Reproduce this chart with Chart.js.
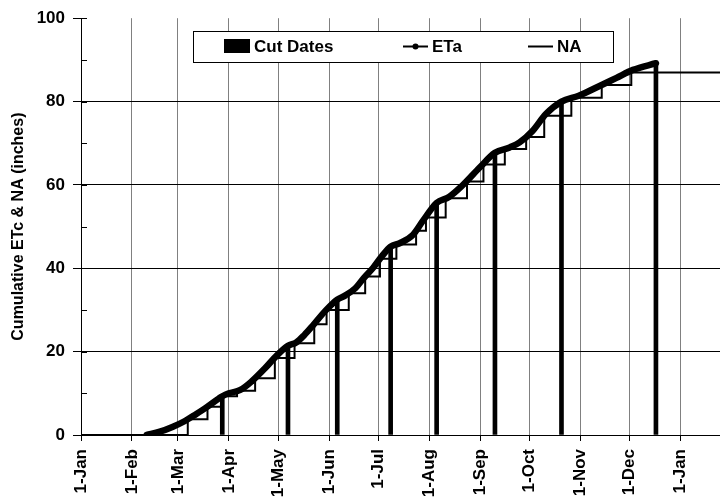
<!DOCTYPE html>
<html>
<head>
<meta charset="utf-8">
<script src="https://cdn.jsdelivr.net/npm/chart.js@4.4.1/dist/chart.umd.min.js"></script>
<style>
  html, body { margin: 0; padding: 0; background: #fff; }
  #chart { display: block; }
</style>
</head>
<body>
<canvas id="chart" width="720" height="500"></canvas>
<script>
// Axe des x : jours depuis le 1er janvier
const monthDays = [0, 31, 59, 90, 120, 151, 181, 212, 243, 273, 304, 334, 365];
const monthLabels = ['1-Jan', '1-Feb', '1-Mar', '1-Apr', '1-May', '1-Jun', '1-Jul',
                     '1-Aug', '1-Sep', '1-Oct', '1-Nov', '1-Dec', '1-Jan'];

// ETa cumulée (inches)
const etaDays   = [40, 48, 56, 63, 70, 77, 84, 86, 90, 97, 104, 112, 119, 126, 131, 136, 141, 149,
                   156, 161, 167, 172, 178, 183, 188.5, 194, 202, 208, 216.5, 224, 232, 243, 252,
                   261, 267, 275, 283, 292.5, 303, 316, 326, 336, 350];
const etaValues = [0, 0.8, 2.0, 3.3, 5.0, 6.8, 8.8, 9.3, 10.0, 10.8, 12.9, 16.0, 19.0, 21.4, 22.2, 24.0, 26.2, 29.9,
                   32.5, 33.5, 35.2, 37.6, 40.2, 42.8, 45.2, 46.0, 48.0, 51.3, 55.7, 57.1, 59.8, 64.3, 67.7,
                   69.0, 70.2, 73.0, 77.0, 80.0, 81.4, 83.8, 85.7, 87.6, 89.2];

// Dates de coupe
const cutDays   = [86, 126, 156, 188.5, 216.5, 252, 292.5, 350];
const cutValues = [9.3, 21.4, 32.5, 45.2, 55.7, 67.7, 80.0, 89.2];

// NA (escalier)
const naDays   = [0, 65, 77, 86, 95, 106, 118, 130, 142, 149.5, 163, 173, 182, 192, 204, 210,
                  222, 235, 245, 258, 271, 282, 298.5, 317, 335, 389];
const naValues = [0, 3.8, 6.8, 9.3, 10.6, 13.6, 18.5, 22.0, 26.6, 30.0, 34.0, 38.0, 42.3, 45.7, 49.0, 52.2,
                  56.8, 60.8, 64.9, 68.6, 71.5, 76.6, 80.9, 84.0, 87.0, 87.0];

const FONT = '"Liberation Sans", Arial, sans-serif';

const toPoints = (xs, ys) => xs.map((x, i) => ({ x: x, y: ys[i] }));

// Petits tirets intérieurs sur l'axe des y
const innerTicks = {
    id: 'innerTicks',
    afterDraw(chart) {
        const ctx = chart.ctx;
        const y = chart.scales.y;
        ctx.save();
        ctx.strokeStyle = '#000';
        ctx.lineWidth = 1;
        for (let v = 0; v <= 100; v += 10) {
            const py = Math.round(y.getPixelForValue(v)) + 0.5;
            ctx.beginPath();
            ctx.moveTo(y.right, py);
            ctx.lineTo(y.right + 6, py);
            ctx.stroke();
        }
        ctx.restore();
    }
};

// Légende encadrée dans la zone du graphique
const legendBox = {
    id: 'legendBox',
    afterDraw(chart) {
        const ctx = chart.ctx;
        ctx.save();
        ctx.fillStyle = '#fff';
        ctx.fillRect(193.5, 31.5, 420, 31);
        ctx.strokeStyle = '#000';
        ctx.lineWidth = 1;
        ctx.strokeRect(193.5, 31.5, 420, 31);

        ctx.fillStyle = '#000';
        ctx.font = 'bold 17px ' + FONT;
        ctx.textBaseline = 'middle';

        // Cut Dates
        ctx.fillRect(224, 39, 26, 14);
        ctx.fillText('Cut Dates', 254, 47);

        // ETa
        ctx.lineWidth = 2;
        ctx.beginPath();
        ctx.moveTo(403, 46.5);
        ctx.lineTo(428, 46.5);
        ctx.stroke();
        ctx.beginPath();
        ctx.arc(415.5, 46.5, 3, 0, Math.PI * 2);
        ctx.fill();
        ctx.fillText('ETa', 432, 47);

        // NA
        ctx.beginPath();
        ctx.moveTo(528, 46.5);
        ctx.lineTo(553, 46.5);
        ctx.stroke();
        ctx.fillText('NA', 557, 47);
        ctx.restore();
    }
};

new Chart(document.getElementById('chart'), {
    type: 'line',
    data: {
        datasets: [{
            label: 'ETa',
            data: toPoints(etaDays, etaValues),
            borderColor: '#000',
            borderWidth: 6.5,
            pointRadius: 0,
            cubicInterpolationMode: 'monotone',
            borderJoinStyle: 'round',
            borderCapStyle: 'round',
            fill: false
        }, {
            type: 'bar',
            label: 'Cut Dates',
            data: toPoints(cutDays, cutValues),
            backgroundColor: '#000',
            borderWidth: 0,
            barThickness: 4,
            grouped: false
        }, {
            label: 'NA',
            data: toPoints(naDays, naValues),
            borderColor: '#000',
            borderWidth: 2,
            pointRadius: 0,
            stepped: true,
            fill: false
        }]
    },
    options: {
        responsive: false,
        animation: false,
        devicePixelRatio: 1,
        layout: { padding: { top: 15, right: 0, left: 0, bottom: 0 } },
        plugins: {
            legend: { display: false },
            tooltip: { enabled: false }
        },
        scales: {
            x: {
                type: 'linear',
                min: 0,
                max: 389,
                offset: false,
                afterBuildTicks: (scale) => {
                    scale.ticks = monthDays.map(v => ({ value: v }));
                },
                afterFit: (scale) => { scale.height = 65; },
                grid: {
                    offset: false,
                    color: (c) => c.tick && c.tick.value === 0 ? 'rgba(0,0,0,0)' : '#808080',
                    tickColor: '#000',
                    tickLength: 6,
                    lineWidth: 1
                },
                border: { color: '#000', width: 1 },
                ticks: {
                    autoSkip: false,
                    minRotation: 90,
                    maxRotation: 90,
                    padding: 8,
                    color: '#000',
                    font: { family: FONT, size: 17, weight: 'bold' },
                    callback: (value, index) => monthLabels[index]
                }
            },
            y: {
                min: 0,
                max: 100,
                afterFit: (scale) => { scale.width = 81; },
                grid: {
                    color: (c) => (c.tick && c.tick.value > 0 && c.tick.value < 100) ? '#000' : 'rgba(0,0,0,0)',
                    tickColor: '#000',
                    tickLength: 8,
                    lineWidth: 1
                },
                border: { color: '#000', width: 1 },
                ticks: {
                    stepSize: 20,
                    padding: 8,
                    color: '#000',
                    font: { family: FONT, size: 17, weight: 'bold' }
                },
                title: {
                    display: true,
                    text: 'Cumulative ETc & NA (inches)',
                    color: '#000',
                    font: { family: FONT, size: 16, weight: 'bold' },
                    padding: { top: 9, bottom: 0 }
                }
            }
        }
    },
    plugins: [innerTicks, legendBox]
});
</script>
</body>
</html>
